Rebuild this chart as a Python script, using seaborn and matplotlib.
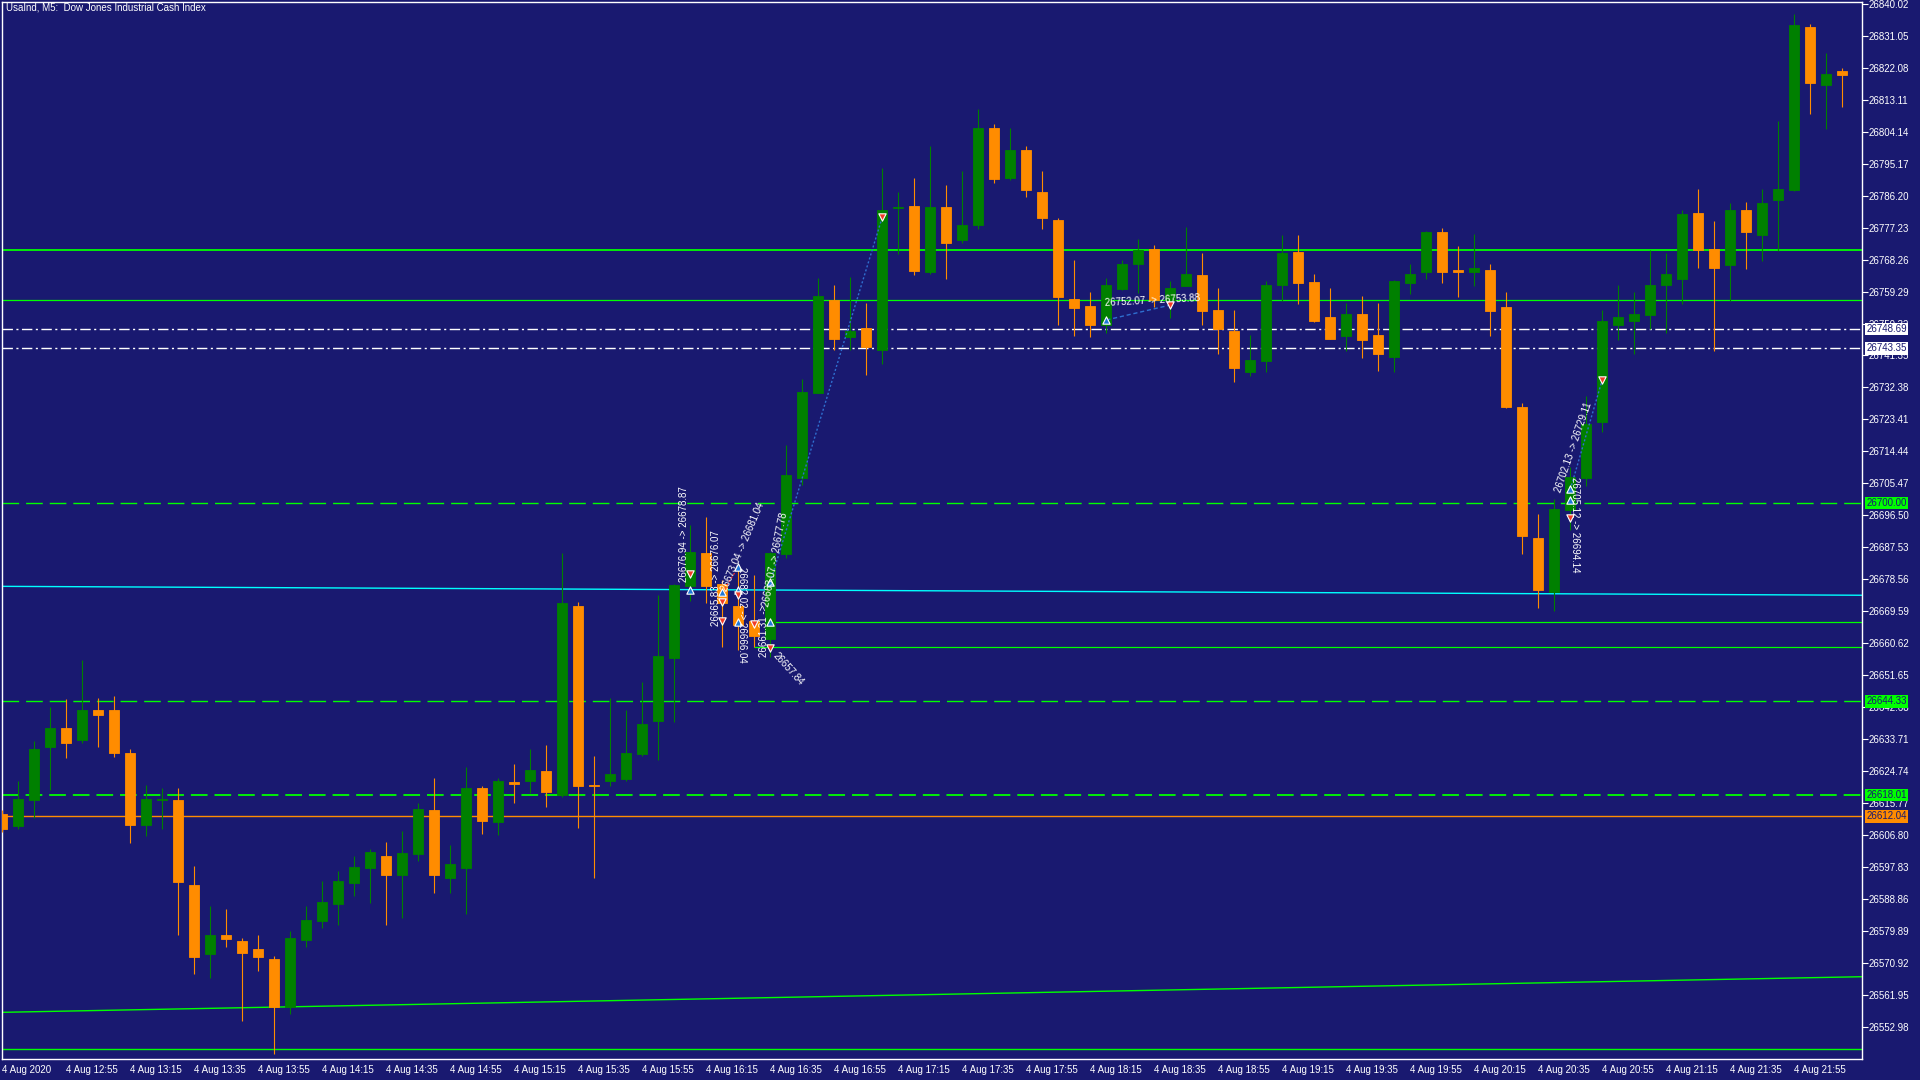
import numpy as np
import pandas as pd
import matplotlib
matplotlib.use("Agg")
from matplotlib import pyplot as plt
from matplotlib import transforms
import seaborn as sns

# ---- data: UsaInd M5, 4 Aug 2020 12:35 .. 22:10 ----
opens = [
    26612.73, 26609.45, 26616.74, 26631.61, 26636.86, 26633.57, 26641.90, 26641.90,
    26629.84, 26609.73, 26616.60, 26616.66, 26592.82, 26573.55, 26578.79, 26577.11,
    26574.87, 26572.06, 26558.68, 26577.47, 26582.80, 26587.57, 26593.46, 26597.67,
    26600.95, 26595.71, 26601.60, 26613.85, 26594.86, 26597.67, 26620.03, 26610.63,
    26621.71, 26621.99, 26624.80, 26618.06, 26671.08, 26621.00, 26621.99, 26622.55,
    26629.56, 26638.82, 26656.63, 26676.69, 26685.94, 26677.25, 26671.08, 26666.87,
    26661.82, 26685.66, 26707.09, 26730.96, 26756.91, 26746.67, 26749.06, 26742.88,
    26782.80, 26783.28, 26764.85, 26783.00, 26773.82, 26778.03, 26805.16, 26791.22,
    26798.98, 26787.20, 26779.35, 26757.19, 26755.23, 26749.98, 26760.08, 26767.09,
    26771.22, 26756.91, 26760.92, 26763.92, 26754.10, 26748.21, 26736.80, 26739.88,
    26761.20, 26770.37, 26761.96, 26752.14, 26746.90, 26752.98, 26747.09, 26741.01,
    26761.76, 26764.76, 26775.98, 26765.20, 26764.76, 26765.32, 26754.95, 26726.90,
    26690.15, 26675.00, 26698.00, 26706.98, 26722.69, 26749.90, 26751.02, 26752.70,
    26761.12, 26762.80, 26781.31, 26771.22, 26766.73, 26782.15, 26775.14, 26784.96,
    26787.77, 26833.49, 26817.33, 26821.14,
]
highs = [
    26613.85, 26621.99, 26633.21, 26642.75, 26644.99, 26655.93, 26645.27, 26645.83,
    26630.97, 26620.87, 26620.03, 26620.03, 26598.15, 26586.93, 26586.09, 26577.95,
    26578.79, 26572.90, 26579.91, 26586.93, 26593.94, 26596.74, 26600.95, 26602.92,
    26604.88, 26607.96, 26615.82, 26622.83, 26604.04, 26625.92, 26620.59, 26622.83,
    26626.76, 26630.97, 26632.09, 26685.94, 26672.20, 26629.00, 26645.27, 26641.96,
    26649.76, 26674.16, 26677.20, 26693.94, 26696.04, 26678.37, 26682.30, 26679.77,
    26686.20, 26716.24, 26734.86, 26763.08, 26761.12, 26763.36, 26756.07, 26793.94,
    26787.20, 26791.13, 26800.11, 26789.17, 26793.09, 26810.49, 26806.28, 26805.16,
    26800.11, 26793.09, 26779.91, 26768.13, 26759.15, 26763.16, 26768.13, 26774.02,
    26772.34, 26762.24, 26777.39, 26770.09, 26760.28, 26754.10, 26747.09, 26762.24,
    26775.14, 26775.14, 26764.20, 26760.28, 26756.07, 26758.03, 26756.07, 26762.50,
    26767.01, 26776.26, 26777.11, 26772.06, 26775.42, 26767.01, 26759.15, 26728.02,
    26696.88, 26701.09, 26710.18, 26729.98, 26754.10, 26761.12, 26759.15, 26771.07,
    26770.09, 26782.15, 26788.05, 26779.07, 26784.12, 26784.40, 26788.05, 26807.12,
    26837.13, 26834.33, 26826.19, 26821.99,
]
lows = [
    26607.68, 26608.61, 26611.70, 26619.55, 26628.53, 26632.73, 26631.61, 26628.81,
    26604.68, 26606.65, 26608.61, 26578.88, 26567.94, 26566.82, 26575.51, 26554.75,
    26568.78, 26545.50, 26556.72, 26575.51, 26580.84, 26581.68, 26589.82, 26587.85,
    26581.68, 26583.65, 26599.63, 26590.66, 26590.66, 26584.77, 26607.12, 26606.84,
    26615.82, 26618.63, 26614.70, 26617.50, 26608.81, 26594.78, 26620.59, 26621.99,
    26629.00, 26627.88, 26638.65, 26672.59, 26671.92, 26659.72, 26658.73, 26659.72,
    26656.77, 26684.68, 26705.02, 26730.70, 26742.88, 26742.88, 26735.87, 26738.96,
    26769.81, 26763.92, 26764.20, 26762.88, 26772.98, 26776.91, 26789.81, 26790.65,
    26785.89, 26776.91, 26749.90, 26746.90, 26746.62, 26747.74, 26759.72, 26758.96,
    26755.03, 26751.95, 26760.80, 26749.98, 26741.85, 26733.99, 26735.68, 26736.80,
    26756.63, 26755.87, 26750.80, 26745.90, 26742.69, 26740.73, 26737.08, 26736.80,
    26758.65, 26762.80, 26761.68, 26757.86, 26760.98, 26746.81, 26726.62, 26685.77,
    26670.52, 26669.67, 26692.39, 26704.85, 26719.88, 26745.69, 26741.76, 26748.78,
    26747.65, 26755.87, 26765.97, 26742.69, 26756.77, 26765.61, 26767.85, 26770.65,
    26787.50, 26809.08, 26804.88, 26810.91,
]
closes = [
    26608.61, 26616.94, 26630.97, 26636.86, 26632.73, 26641.90, 26640.59, 26629.93,
    26609.73, 26616.94, 26617.00, 26593.74, 26572.71, 26578.79, 26577.76, 26573.83,
    26572.71, 26558.60, 26577.95, 26583.00, 26588.05, 26593.94, 26597.87, 26602.07,
    26595.71, 26601.79, 26614.14, 26595.71, 26598.71, 26620.03, 26610.88, 26621.99,
    26621.15, 26625.08, 26618.91, 26671.92, 26620.59, 26620.60, 26623.95, 26629.84,
    26637.98, 26657.05, 26676.97, 26686.22, 26676.69, 26671.92, 26665.75, 26662.80,
    26685.94, 26707.82, 26731.10, 26758.03, 26745.97, 26748.21, 26743.84, 26782.15,
    26783.00, 26765.18, 26783.08, 26772.98, 26777.95, 26805.16, 26790.85, 26798.98,
    26787.85, 26780.00, 26757.84, 26754.75, 26749.98, 26761.12, 26767.01, 26770.93,
    26756.91, 26760.28, 26764.20, 26753.91, 26748.78, 26737.92, 26740.08, 26761.12,
    26770.09, 26761.76, 26751.02, 26746.06, 26752.98, 26745.77, 26741.85, 26762.24,
    26764.20, 26775.98, 26764.76, 26764.90, 26765.89, 26753.82, 26726.90, 26690.71,
    26675.56, 26698.29, 26707.26, 26722.13, 26751.02, 26752.14, 26752.98, 26761.12,
    26764.20, 26781.03, 26770.93, 26765.97, 26782.15, 26775.98, 26784.12, 26788.05,
    26834.05, 26817.78, 26820.30, 26820.02,
]

time_labels = [
    "4 Aug 2020", "4 Aug 12:55", "4 Aug 13:15", "4 Aug 13:35", "4 Aug 13:55",
    "4 Aug 14:15", "4 Aug 14:35", "4 Aug 14:55", "4 Aug 15:15", "4 Aug 15:35",
    "4 Aug 15:55", "4 Aug 16:15", "4 Aug 16:35", "4 Aug 16:55", "4 Aug 17:15",
    "4 Aug 17:35", "4 Aug 17:55", "4 Aug 18:15", "4 Aug 18:35", "4 Aug 18:55",
    "4 Aug 19:15", "4 Aug 19:35", "4 Aug 19:55", "4 Aug 20:15", "4 Aug 20:35",
    "4 Aug 20:55", "4 Aug 21:15", "4 Aug 21:35", "4 Aug 21:55",
]
price_ticks = [
    26840.02, 26831.05, 26822.08, 26813.11, 26804.14, 26795.17, 26786.20, 26777.23,
    26768.26, 26759.29, 26750.32, 26741.35, 26732.38, 26723.41, 26714.44, 26705.47,
    26696.50, 26687.53, 26678.56, 26669.59, 26660.62, 26651.65, 26642.68, 26633.71,
    26624.74, 26615.77, 26606.80, 26597.83, 26588.86, 26579.89, 26570.92, 26561.95,
    26552.98,
]

# levels drawn on the chart
level_solid = [26770.85, 26756.82]
level_dashdot = [26748.69, 26743.35]
level_dashed = [26700.00, 26644.33, 26618.01]
level_orange = 26612.04
level_bottom = 26546.73
cyan_trend = [26676.6, 26674.1]
green_trend = [26557.1, 26567.1]
short_levels = [26666.65, 26659.69]
short_starts = [48.2, 47.0]

# trade arrows: bar index, price
buy_bars = [43, 45, 46, 46, 46, 48, 48, 69, 98, 98]
buy_prices = [26675.6, 26674.9, 26682.0, 26675.6, 26666.7, 26677.8, 26666.7, 26751.3, 26703.8, 26700.8]
sell_bars = [43, 45, 45, 46, 47, 48, 55, 73, 98, 100]
sell_prices = [26680.1, 26672.2, 26667.0, 26674.2, 26666.1, 26659.2, 26780.2, 26755.5, 26695.8, 26734.6]

BG = "#191970"
GREEN = "#008000"
ORANGE = "#FF8C00"
LIME = "#00FF00"
WHITE = "#FFFFFF"

sns.set_style("dark", rc={
    "axes.facecolor": BG,
    "figure.facecolor": BG,
    "axes.edgecolor": WHITE,
    "axes.grid": False,
    "text.color": WHITE,
    "xtick.color": WHITE,
    "ytick.color": WHITE,
})
plt.rcParams["font.family"] = ["Liberation Sans", "DejaVu Sans"]
plt.rcParams["lines.scale_dashes"] = False

df = pd.DataFrame({"open": opens, "high": highs, "low": lows, "close": closes})
df["bar"] = np.arange(len(df))
up = df["close"] >= df["open"]
colors = np.where(up, GREEN, ORANGE)

W, H = 1920, 1080
fig = plt.figure(figsize=(W / 100, H / 100), dpi=100)
ax = fig.add_axes([2 / W, 21 / H, 1860 / W, 1057 / H])

ax.set_xlim(-0.02, 116.23)
ax.set_ylim(26544.02, 26840.50)

# levels
for p, lw in zip(level_solid, [1.3, 0.9]):
    ax.axhline(p, color=LIME, lw=lw, zorder=1)
for p in level_dashdot:
    ax.axhline(p, color=WHITE, lw=1.0, ls=(0, (7.5, 2.5, 1.5, 2.5)), zorder=1)
for p, lw in zip(level_dashed, [1.0, 1.0, 1.3]):
    ax.axhline(p, color=LIME, lw=lw, ls=(0, (12, 5)), zorder=1)
ax.axhline(level_orange, color=ORANGE, lw=1.0, zorder=1)
ax.axhline(level_bottom, color=LIME, lw=1.0, zorder=1)
ax.plot([-0.15, 116.23], cyan_trend, color="#00FFFF", lw=1.0, zorder=1)
ax.plot([-0.15, 116.23], green_trend, color=LIME, lw=1.0, zorder=1)
for p, x0 in zip(short_levels, short_starts):
    ax.hlines(p, x0, 116.3, color=LIME, lw=0.9, zorder=1)

# candles
ax.vlines(df["bar"], df["low"], df["high"], colors=colors, lw=0.8, zorder=3)
body_bottom = np.minimum(df["open"], df["close"])
body_height = (df["open"] - df["close"]).abs()
ax.bar(df["bar"], body_height, bottom=body_bottom, width=0.64,
       color=colors, edgecolor=colors, linewidth=0.6, zorder=4)

# trade links
ax.plot([48, 55], [26677.8, 26780.2], color="#2F6FD0", lw=1.0, ls=(0, (1.5, 1.5)), zorder=5)
ax.plot([69, 73], [26751.3, 26755.5], color="#2F6FD0", lw=1.0, ls=(0, (3, 2)), zorder=5)
ax.plot([98, 100], [26703.8, 26734.6], color="#2F6FD0", lw=1.0, ls=(0, (1.5, 1.5)), zorder=5)
ax.plot([45, 46], [26674.9, 26682.0], color="#FF3030", lw=0.8, ls=(0, (1.5, 1.5)), zorder=5)

trades = pd.DataFrame({
    "bar": buy_bars + sell_bars,
    "price": buy_prices + sell_prices,
    "side": ["buy"] * len(buy_bars) + ["sell"] * len(sell_bars),
})
sns.scatterplot(data=trades[trades.side == "buy"], x="bar", y="price", ax=ax,
                marker="^", s=28, color="#1E78D8", edgecolor=WHITE, linewidth=0.8,
                zorder=6, legend=False)
sns.scatterplot(data=trades[trades.side == "sell"], x="bar", y="price", ax=ax,
                marker="v", s=28, color="#F03C28", edgecolor=WHITE, linewidth=0.8,
                zorder=6, legend=False)

# trade texts
tkw = dict(color=WHITE, fontsize=7, zorder=7, ha="center", va="center",
           rotation_mode="anchor")
ax.text(68.9, 26756.0, "26752.07 -> 26753.88", rotation=3, **{**tkw, "ha": "left"})
ax.text(42.6, 26691.2, "26676.94 -> 26678.87", rotation=90, **tkw)
ax.text(44.6, 26679.0, "26665.83 -> 26676.07", rotation=90, **tkw)
ax.text(46.3, 26687.8, "26673.04 -> 26681.04", rotation=67, **tkw)
ax.text(46.2, 26668.6, "26682.02 -> 26666.04", rotation=-90, **tkw)
ax.text(48.3, 26684.0, "26663.07 -> 26677.78", rotation=79, **tkw)
ax.text(47.6, 26664.0, "26661.31 ->", rotation=90, **tkw)
ax.text(49.1, 26653.5, "26657.84", rotation=-48, **tkw)
ax.text(98.2, 26715.5, "26702.13 -> 26729.11", rotation=71, **tkw)
ax.text(98.3, 26694.0, "26705.12 -> 26694.14", rotation=-90, **tkw)

# axes look
for side in ["top", "bottom", "left", "right"]:
    ax.spines[side].set_color(WHITE)
    ax.spines[side].set_linewidth(1.0)
ax.yaxis.tick_right()
ax.set_yticks(price_ticks)
ax.set_yticklabels(["{:.2f}".format(p) for p in price_ticks])
ax.set_xticks(np.arange(0, 113, 4))
ax.set_xticklabels(time_labels, ha="left")
ax.tick_params(axis="y", length=4, width=0.8, labelsize=7, pad=1, colors=WHITE)
ax.tick_params(axis="x", length=4, width=0.8, labelsize=7, pad=0, colors=WHITE)
ax.set_xlabel("")
ax.set_ylabel("")

# price tags on the right scale
blend = transforms.blended_transform_factory(ax.transAxes, ax.transData)
tags = [(26748.69, WHITE), (26743.35, WHITE), (26700.00, LIME),
        (26644.33, LIME), (26618.01, LIME), (26612.04, ORANGE)]
for p, fc in tags:
    ax.text(1.0025, p, "{:.2f}".format(p), transform=blend, fontsize=7,
            color=BG, ha="left", va="center", zorder=10, clip_on=False,
            bbox=dict(boxstyle="square,pad=0.12", fc=fc, ec="none"))

fig.text(6 / W, 1 - 8 / H, "UsaInd, M5:  Dow Jones Industrial Cash Index",
         color=WHITE, fontsize=7, ha="left", va="center")

fig.savefig("out.png", dpi=100, facecolor=BG)
